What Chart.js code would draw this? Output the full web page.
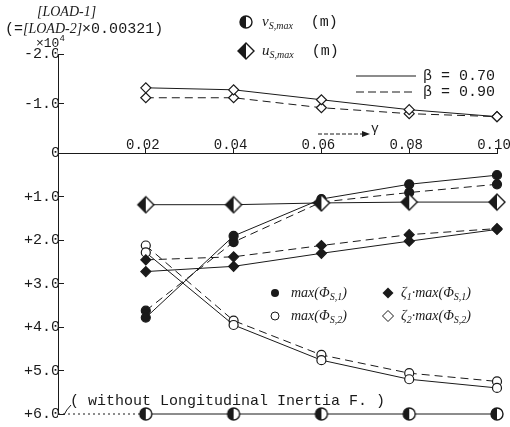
<!DOCTYPE html>
<html>
<head>
<meta charset="utf-8">
<script src="https://cdn.jsdelivr.net/npm/chart.js@4.4.0/dist/chart.umd.min.js"></script>
<style>
  html, body { margin: 0; padding: 0; background: #fff; }
  #wrap { width: 510px; height: 427px; }
</style>
</head>
<body>
<div id="wrap"><canvas id="chart" width="510" height="427"></canvas></div>
<script>
// gamma values on the x axis
const gammas = [0.02, 0.04, 0.06, 0.08, 0.10];
const xTicks = [0.02, 0.04, 0.06, 0.08, 0.10];
const upperTicks = [-2, -1, 0];
const lowerTicks = [0, 1, 2, 3, 4, 5, 6];

// lower scale (x10^4)
const phi1B70 = [3.78, 1.90, 1.05, 0.71, 0.50];
const phi1B90 = [3.62, 2.04, 1.12, 0.90, 0.71];
const phi2B70 = [2.28, 3.95, 4.76, 5.20, 5.40];
const phi2B90 = [2.12, 3.85, 4.64, 5.06, 5.25];
const z1phi1B70 = [2.72, 2.60, 2.30, 2.02, 1.75];
const z1phi1B90 = [2.45, 2.38, 2.12, 1.87, 1.73];
const usMax = [1.18, 1.18, 1.14, 1.12, 1.12];
const vsMax = [6.0, 6.0, 6.0, 6.0, 6.0];
// upper scale
const z2phi2B70 = [-1.32, -1.28, -1.08, -0.88, -0.74];
const z2phi2B90 = [-1.12, -1.12, -0.92, -0.80, -0.74];
// without longitudinal inertia force
const noInertiaX = [0, 0.02];
const noInertiaV = [6.0, 6.0];

const INK = '#1a1a1a';
const MONO = '"Liberation Mono", "DejaVu Sans Mono", monospace';
const SERIF = '"Liberation Serif", "DejaVu Serif", serif';

// half black / half white markers
function halfMarker(kind, r) {
    const c = document.createElement('canvas');
    const s = Math.ceil(2 * r + 4);
    c.width = c.height = s;
    const g = c.getContext('2d');
    const m = s / 2;
    const path = () => {
        g.beginPath();
        if (kind === 'circle') {
            g.arc(m, m, r, 0, Math.PI * 2);
        } else {
            g.moveTo(m, m - r); g.lineTo(m + r, m); g.lineTo(m, m + r); g.lineTo(m - r, m); g.closePath();
        }
    };
    g.fillStyle = '#fff'; path(); g.fill();
    g.save(); path(); g.clip();
    g.fillStyle = INK; g.fillRect(0, 0, m, s);
    g.restore();
    g.lineWidth = 1.4; g.strokeStyle = INK; path(); g.stroke();
    return c;
}
const halfCircle = halfMarker('circle', 6);
const halfDiamond = halfMarker('diamond', 8);

function pts(ys, xs) {
    xs = xs || gammas;
    return ys.map((y, i) => ({ x: xs[i], y: y }));
}

function series(data, axis, dashed, style, filled, radius) {
    return {
        data: pts(data),
        yAxisID: axis,
        clip: false,
        borderColor: INK,
        borderWidth: 1,
        borderDash: dashed ? [8, 5] : [],
        pointStyle: style,
        pointRadius: radius,
        pointBackgroundColor: filled ? INK : '#fff',
        pointBorderColor: INK,
        pointBorderWidth: 1.2,
        tension: 0,
        fill: false
    };
}

const datasets = [
    {
        data: pts(noInertiaV, noInertiaX), yAxisID: 'yL', clip: false,
        borderColor: INK, borderWidth: 1, borderDash: [2, 3], pointRadius: 0, fill: false
    },
    series(z2phi2B70, 'yU', false, 'rectRot', false, 5),
    series(z2phi2B90, 'yU', true, 'rectRot', false, 5),
    series(usMax, 'yL', false, halfDiamond, false, 8),
    series(z1phi1B70, 'yL', false, 'rectRot', true, 5),
    series(z1phi1B90, 'yL', true, 'rectRot', true, 5),
    series(phi2B70, 'yL', false, 'circle', false, 4.5),
    series(phi2B90, 'yL', true, 'circle', false, 4.5),
    series(phi1B70, 'yL', false, 'circle', true, 4.5),
    series(phi1B90, 'yL', true, 'circle', true, 4.5),
    series(vsMax, 'yL', false, halfCircle, false, 6)
];

// draws a run of text pieces: [text, font, dy]
function rich(ctx, x, y, parts) {
    parts.forEach(p => {
        ctx.font = p[1];
        ctx.fillText(p[0], x, y + (p[2] || 0));
        x += ctx.measureText(p[0]).width;
    });
}

const annotations = {
    id: 'annotations',
    afterDraw(chart) {
        const ctx = chart.ctx;
        ctx.save();
        ctx.fillStyle = INK;
        ctx.strokeStyle = INK;
        ctx.textBaseline = 'middle';
        const it = 'italic 14px ' + SERIF;
        const sub = 'italic 10px ' + SERIF;
        const mono = '15px ' + MONO;

        // y axis title
        rich(ctx, 37, 12, [['[LOAD-1]', it]]);
        rich(ctx, 5, 29, [['(=', mono], ['[LOAD-2]', it], ['\u00d70.00321)', mono]]);
        rich(ctx, 36, 44, [['\u00d710', '13px ' + MONO], ['4', '9px ' + MONO, -5]]);

        // top legend
        ctx.drawImage(halfCircle, 246 - halfCircle.width / 2, 22 - halfCircle.height / 2);
        rich(ctx, 262, 22, [['v', 'italic 15px ' + SERIF], ['S,max', sub, 4], ['  (m)', mono]]);
        ctx.drawImage(halfDiamond, 246 - halfDiamond.width / 2, 51 - halfDiamond.height / 2);
        rich(ctx, 262, 51, [['u', 'italic 15px ' + SERIF], ['S,max', sub, 4], ['  (m)', mono]]);

        ctx.lineWidth = 1.2;
        ctx.beginPath(); ctx.moveTo(356, 76); ctx.lineTo(416, 76); ctx.stroke();
        ctx.setLineDash([8, 4]);
        ctx.beginPath(); ctx.moveTo(356, 92); ctx.lineTo(416, 92); ctx.stroke();
        ctx.setLineDash([]);
        rich(ctx, 423, 76, [['\u03b2 = 0.70', mono]]);
        rich(ctx, 423, 92, [['\u03b2 = 0.90', mono]]);

        // gamma arrow
        ctx.lineWidth = 1;
        ctx.setLineDash([4, 2]);
        ctx.beginPath(); ctx.moveTo(318, 134); ctx.lineTo(364, 134); ctx.stroke();
        ctx.setLineDash([]);
        ctx.beginPath(); ctx.moveTo(370, 134); ctx.lineTo(362, 131); ctx.lineTo(362, 137); ctx.closePath(); ctx.fill();
        rich(ctx, 371, 129, [['\u03b3', '13px ' + MONO]]);

        // lower legend
        const lx1 = 275, lx2 = 388, r1 = 293, r2 = 316;
        ctx.beginPath(); ctx.arc(lx1, r1, 4, 0, Math.PI * 2); ctx.fill();
        ctx.fillStyle = '#fff';
        ctx.beginPath(); ctx.arc(lx1, r2, 4, 0, Math.PI * 2); ctx.fill();
        ctx.stroke();
        ctx.fillStyle = INK;
        ctx.beginPath(); ctx.moveTo(lx2, r1 - 5.5); ctx.lineTo(lx2 + 5.5, r1); ctx.lineTo(lx2, r1 + 5.5); ctx.lineTo(lx2 - 5.5, r1); ctx.closePath(); ctx.fill();
        ctx.beginPath(); ctx.moveTo(lx2, r2 - 5.5); ctx.lineTo(lx2 + 5.5, r2); ctx.lineTo(lx2, r2 + 5.5); ctx.lineTo(lx2 - 5.5, r2); ctx.closePath(); ctx.stroke();
        const f = 'italic 14px ' + SERIF;
        rich(ctx, 291, r1, [['max(\u03a6', f], ['S,1', sub, 4], [')', f]]);
        rich(ctx, 291, r2, [['max(\u03a6', f], ['S,2', sub, 4], [')', f]]);
        rich(ctx, 401, r1, [['\u03b6', f], ['1', sub, 4], ['\u00b7max(\u03a6', f], ['S,1', sub, 4], [')', f]]);
        rich(ctx, 401, r2, [['\u03b6', f], ['2', sub, 4], ['\u00b7max(\u03a6', f], ['S,2', sub, 4], [')', f]]);

        // note for the dotted line
        rich(ctx, 70, 401, [['( without Longitudinal Inertia F. )', mono]]);
        ctx.beginPath(); ctx.moveTo(71, 405); ctx.quadraticCurveTo(66, 410, 64, 415); ctx.stroke();
        ctx.restore();
    }
};

new Chart(document.getElementById('chart'), {
    type: 'line',
    data: { datasets: datasets },
    plugins: [annotations],
    options: {
        responsive: false,
        animation: false,
        layout: { padding: { left: 0, right: 13, top: 54, bottom: 11 } },
        plugins: { legend: { display: false }, tooltip: { enabled: false } },
        scales: {
            x: {
                type: 'linear',
                min: 0,
                max: 0.1,
                position: { yL: 0 },
                afterBuildTicks: s => { s.ticks = xTicks.map(v => ({ value: v })); },
                afterFit: s => { s.paddingLeft = 0; s.paddingRight = 0; },
                ticks: {
                    color: INK,
                    font: { family: MONO, size: 14 },
                    padding: -11,
                    labelOffset: -3,
                    maxRotation: 0,
                    callback: v => v.toFixed(2)
                },
                grid: { drawOnChartArea: false, tickLength: -6, color: INK },
                border: { color: INK, width: 1 }
            },
            yU: {
                type: 'linear',
                position: 'left',
                stack: 'v',
                stackWeight: 100,
                weight: 2,
                min: -2,
                max: 0,
                reverse: true,
                afterBuildTicks: s => { s.ticks = upperTicks.map(v => ({ value: v })); },
                afterFit: s => { s.width = 58; },
                ticks: {
                    color: INK,
                    font: { family: MONO, size: 15 },
                    padding: 4,
                    callback: v => v === 0 ? '0' : v.toFixed(1)
                },
                grid: { drawOnChartArea: false, tickLength: -6, color: INK },
                border: { color: INK, width: 1 }
            },
            yL: {
                type: 'linear',
                position: 'left',
                stack: 'v',
                stackWeight: 262,
                weight: 1,
                min: 0,
                max: 6,
                reverse: true,
                afterBuildTicks: s => { s.ticks = lowerTicks.map(v => ({ value: v })); },
                afterFit: s => { s.width = 58; },
                ticks: {
                    color: INK,
                    font: { family: MONO, size: 15 },
                    padding: 4,
                    callback: v => v === 0 ? '' : '+' + v.toFixed(1)
                },
                grid: { drawOnChartArea: false, tickLength: -6, color: INK },
                border: { color: INK, width: 1 }
            }
        }
    }
});
</script>
</body>
</html>
